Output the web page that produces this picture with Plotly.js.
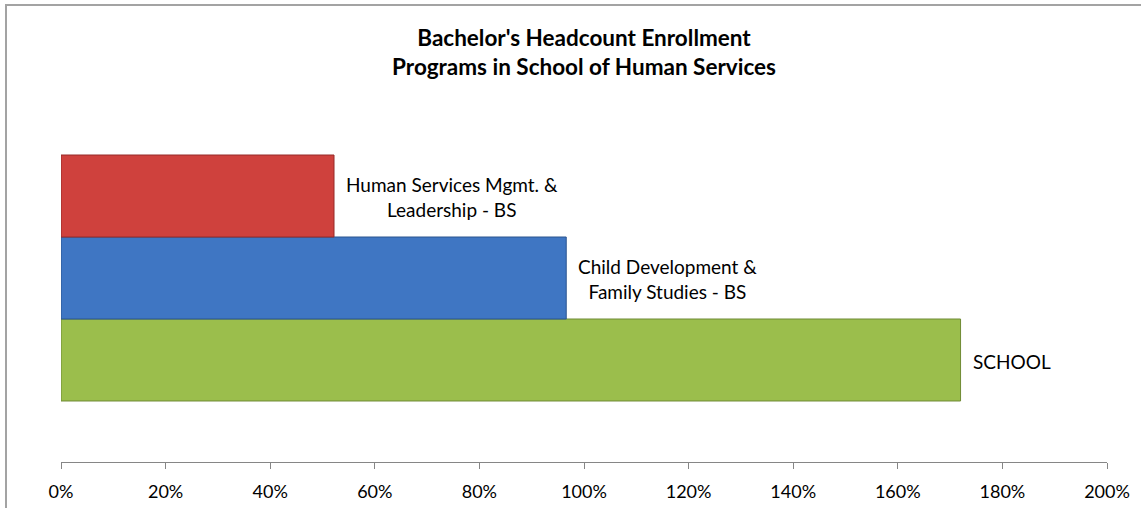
<!DOCTYPE html>
<html>
<head>
<meta charset="utf-8">
<script src="https://cdn.plot.ly/plotly-3.0.1.min.js"></script>
<style>
  html, body { margin: 0; padding: 0; background: #ffffff; overflow: hidden; }
  #chart { position: absolute; left: 0; top: 0; width: 1141px; height: 508px; }
  #frame { position: absolute; left: 5px; top: 4px; width: 2000px; height: 2000px;
           border-left: 2px solid #a3a3a3; border-top: 2px solid #a3a3a3; pointer-events: none; }
</style>
</head>
<body>
<div id="chart"></div>
<div id="frame"></div>
<script>
// Data (bottom to top)
const programs = ["SCHOOL", "Child Development & Family Studies - BS", "Human Services Mgmt. & Leadership - BS"];
const labelLines = ["SCHOOL", "Child Development &<br>Family Studies - BS", "Human Services Mgmt. &<br>Leadership - BS"];
const enrollmentPct = [172, 96.6, 52.2];
const barColors = ["#9bbe4c", "#3f76c3", "#cf413d"];
const edgeColors = ["#6f8a34", "#2b548f", "#962b28"];
const tickValues = [0, 20, 40, 60, 80, 100, 120, 140, 160, 180, 200];
const tickLabels = ["0%", "20%", "40%", "60%", "80%", "100%", "120%", "140%", "160%", "180%", "200%"];

const FONT = "Lato, 'Open Sans', 'Noto Sans', sans-serif";

const trace = {
  type: "bar",
  orientation: "h",
  y: programs,
  x: enrollmentPct,
  width: 1,
  marker: { color: barColors, line: { color: edgeColors, width: 1 } },
  hoverinfo: "x+y",
  showlegend: false
};

const annotations = programs.map((p, i) => ({
  x: enrollmentPct[i],
  y: p,
  xref: "x",
  yref: "y",
  xanchor: "left",
  yanchor: "middle",
  xshift: 10,
  yshift: -1,
  align: "center",
  showarrow: false,
  text: labelLines[i],
  font: { family: FONT, size: 19, color: "#000000" }
}));

const layout = {
  width: 1141,
  height: 508,
  paper_bgcolor: "rgba(0,0,0,0)",
  plot_bgcolor: "rgba(0,0,0,0)",
  margin: { l: 61, r: 34, t: 94, b: 46, pad: 0 },
  title: {
    text: "<b>Bachelor's Headcount Enrollment<br>Programs in School of Human Services</b>",
    font: { family: FONT, size: 22.5, color: "#000000" },
    x: 0.5,
    xanchor: "center",
    xref: "paper",
    y: 1 - 46 / 508,
    yref: "container",
    yanchor: "middle"
  },
  bargap: 0,
  xaxis: {
    range: [0, 200],
    tickmode: "array",
    tickvals: tickValues,
    ticktext: tickLabels,
    showgrid: false,
    zeroline: false,
    showline: true,
    linecolor: "#868686",
    linewidth: 1,
    ticks: "outside",
    ticklen: 6,
    tickcolor: "#868686",
    tickwidth: 1,
    ticklabelstandoff: 7,
    tickfont: { family: FONT, size: 18, color: "#000000" },
    fixedrange: true
  },
  yaxis: {
    type: "category",
    categoryorder: "array",
    categoryarray: programs,
    range: [-1.244, 3.244],
    showticklabels: false,
    showgrid: false,
    zeroline: false,
    showline: false,
    ticks: "",
    fixedrange: true
  },
  annotations: annotations
};

Plotly.newPlot("chart", [trace], layout, { displayModeBar: false, staticPlot: true });
</script>
</body>
</html>
